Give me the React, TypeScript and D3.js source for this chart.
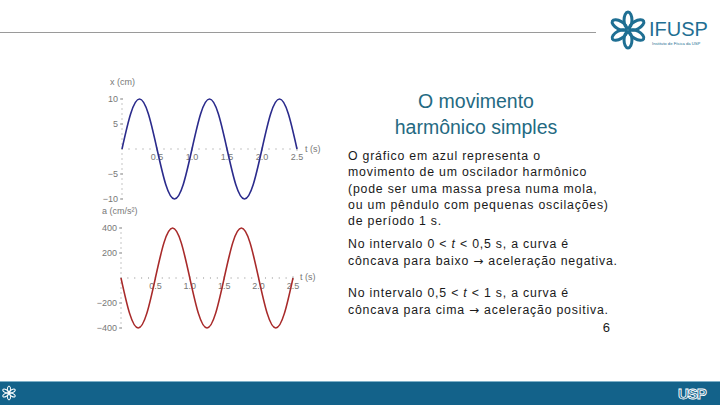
import React from "react";
import * as d3 from "d3";

const times = [0, 0.125, 0.25, 0.375, 0.5, 0.625, 0.75, 0.875, 1, 1.125, 1.25, 1.375, 1.5, 1.625, 1.75, 1.875, 2, 2.125, 2.25, 2.375, 2.5];
const posValues = [0, 7.1, 10, 7.1, 0, -7.1, -10, -7.1, 0, 7.1, 10, 7.1, 0, -7.1, -10, -7.1, 0, 7.1, 10, 7.1, 0];
const accValues = [0, -283, -400, -283, 0, 283, 400, 283, 0, -283, -400, -283, 0, 283, 400, 283, 0, -283, -400, -283, 0];
const tTicks = ["0.5", "1.0", "1.5", "2.0", "2.5"];
const posTicks = [10, 5, -5, -10];
const accTicks = [400, 200, -200, -400];

const titleLines = ["O movimento", "harmônico simples"];
const para1 = [
  "O gráfico em azul representa o",
  "movimento de um oscilador harmônico",
  "(pode ser uma massa presa numa mola,",
  "ou um pêndulo com pequenas oscilações)",
  "de período 1 s.",
];

const fmt = (v: number) => (v < 0 ? "\u2212" + Math.abs(v) : String(v));

function Plot({ x0, x1, yTop, yBot, dom, values, ticks, color, label, labelX, labelY, tLabelX, tLabelY }: any) {
  const xs = d3.scaleLinear().domain([0, 2.5]).range([x0, x1]);
  const ys = d3.scaleLinear().domain([-dom, dom]).range([yBot, yTop]);
  const line = d3
    .line<number>()
    .x((_, i) => xs(times[i]))
    .y((d) => ys(d))
    .curve(d3.curveNatural);
  const minorT = d3.range(0, 26).map((i) => i / 10);
  const minorY = d3.range(-10, 11).map((i) => (i * dom) / 10);
  const gray = "#8a8a8a";
  return (
    <g fontFamily="Liberation Sans, Arial, sans-serif">
      {minorT.map((t, i) => (
        <line key={"mt" + i} x1={xs(t)} x2={xs(t)} y1={ys(0) - 0.5} y2={ys(0) + 0.5} stroke={gray} strokeWidth={1} />
      ))}
      {minorY.map((v, i) => (
        <line key={"my" + i} x1={x0 - 0.5} x2={x0 + 0.5} y1={ys(v)} y2={ys(v)} stroke={gray} strokeWidth={1} />
      ))}
      {tTicks.map((s, i) => (
        <g key={"tt" + i}>
          <line x1={xs(+s)} x2={xs(+s)} y1={ys(0) - 2} y2={ys(0) + 2} stroke="#bbb" />
          <text x={xs(+s)} y={ys(0) + 11} fontSize={9} fill="#777" textAnchor="middle">
            {s}
          </text>
        </g>
      ))}
      {ticks.map((v: number, i: number) => (
        <g key={"yt" + i}>
          <line x1={x0 - 2} x2={x0 + 1} y1={ys(v)} y2={ys(v)} stroke="#999" />
          <text x={x0 - 4} y={ys(v) + 3} fontSize={9} fill="#777" textAnchor="end">
            {fmt(v)}
          </text>
        </g>
      ))}
      <text x={labelX} y={labelY} fontSize={9} fill="#777">
        {label}
      </text>
      <text x={tLabelX} y={tLabelY} fontSize={9} fill="#777">
        t (s)
      </text>
      <path d={line(values) || ""} fill="none" stroke={color} strokeWidth={1.6} />
    </g>
  );
}

function Flower({ cx, cy, r, color, sw }: any) {
  const petals = d3.range(6).map((i) => i * 60);
  return (
    <g transform={`translate(${cx},${cy})`}>
      {petals.map((a) => (
        <ellipse key={a} cx={0} cy={-r * 0.55} rx={r * 0.22} ry={r * 0.45} transform={`rotate(${a})`} fill="none" stroke={color} strokeWidth={sw} />
      ))}
    </g>
  );
}

const Arrow = () => (
  <tspan fontFamily="DejaVu Sans, sans-serif" fontSize={12}>→</tspan>
);

export default function App() {
  return (
    <div style={{ position: "absolute", left: 0, top: 0 }}>
      <svg width={720} height={405} style={{ display: "block", background: "#fff" }}>
        <line x1={0} x2={596} y1={32.5} y2={32.5} stroke="#9a9a9a" strokeWidth={1} />
        <Flower cx={628} cy={30} r={18} color="#1f6f93" sw={3} />
        <text x={649} y={36} fontSize={20} fill="#1f6f93" fontFamily="Liberation Sans, Arial, sans-serif">
          IFUSP
        </text>
        <text x={652} y={45} fontSize={4.2} fill="#1f6f93" fontFamily="Liberation Sans, Arial, sans-serif">
          Instituto de Física da USP
        </text>

        <Plot x0={122} x1={297} yTop={99} yBot={199} dom={10} values={posValues} ticks={posTicks} color="#2b2b8c"
          label="x (cm)" labelX={110} labelY={85} tLabelX={305} tLabelY={152} />
        <Plot x0={121} x1={293} yTop={228} yBot={328} dom={400} values={accValues} ticks={accTicks} color="#a82a2a"
          label="a (cm/s²)" labelX={102} labelY={214} tLabelX={300} tLabelY={280} />

        <g fontFamily="Liberation Sans, Arial, sans-serif" fill="#246a82" fontSize={19.5} textAnchor="middle">
          {titleLines.map((s, i) => (
            <text key={i} x={476} y={108 + i * 26}>
              {s}
            </text>
          ))}
        </g>
        <g fontFamily="Liberation Sans, Arial, sans-serif" fill="#1a1a1a" fontSize={12.3} letterSpacing={0.8}>
          {para1.map((s, i) => (
            <text key={i} x={348} y={160 + i * 16.3}>
              {s}
            </text>
          ))}
          <text x={348} y={248}>
            No intervalo 0 &lt; <tspan fontStyle="italic">t</tspan> &lt; 0,5 s, a curva é
          </text>
          <text x={348} y={265}>côncava para baixo <Arrow /> aceleração negativa.</text>
          <text x={348} y={297}>
            No intervalo 0,5 &lt; <tspan fontStyle="italic">t</tspan> &lt; 1 s, a curva é
          </text>
          <text x={348} y={314}>côncava para cima <Arrow /> aceleração positiva.</text>
          <text x={610} y={332} textAnchor="end" fontSize={13} letterSpacing={0}>6</text>
        </g>

        <rect x={0} y={381} width={720} height={24} fill="#13628a" />
        <line x1={0} x2={720} y1={381.5} y2={381.5} stroke="#7fb0c8" strokeWidth={1} />
        <Flower cx={9} cy={393} r={7} color="#ffffff" sw={1} />
        <text x={678} y={399} fontSize={15} fontWeight="bold" fill="none" stroke="#ffffff" strokeWidth={0.9}
          fontFamily="Liberation Sans, Arial, sans-serif" letterSpacing={-1}>
          USP
        </text>
      </svg>
    </div>
  );
}
